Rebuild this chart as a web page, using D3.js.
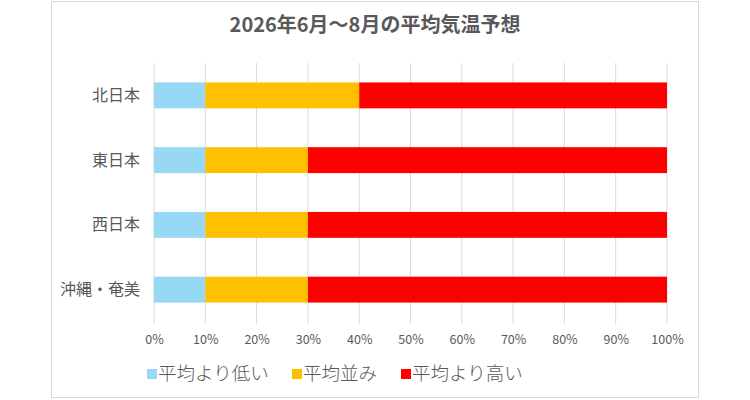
<!DOCTYPE html>
<html>
<head>
<meta charset="utf-8">
<script src="https://cdn.jsdelivr.net/npm/d3@7"></script>
<style>
body{margin:0;background:#fff;}
svg text{font-family:"Noto Sans CJK JP","Noto Sans",sans-serif;fill:#595959;}
</style>
</head>
<body>
<svg id="chart" width="750" height="400"></svg>
<script>
var regions = ["北日本","東日本","西日本","沖縄・奄美"];
var belowAvg = [10,10,10,10];
var nearAvg = [30,20,20,20];
var aboveAvg = [60,70,70,70];
var seriesNames = ["平均より低い","平均並み","平均より高い"];
var seriesColors = ["#97d8f5","#ffc000","#ff0000"];
var xTicks = [0,10,20,30,40,50,60,70,80,90,100];

var svg = d3.select("#chart");

svg.append("rect").attr("x",51.5).attr("y",1.5).attr("width",647).attr("height",396)
	.attr("fill","#fff").attr("stroke","#d9d9d9");

svg.append("text").attr("x",375).attr("y",32).attr("text-anchor","middle")
	.style("font-size","20px").style("font-weight","bold").text("2026年6月～8月の平均気温予想");

var x = d3.scaleLinear().domain([0,100]).range([154,667]);
var y = d3.scaleBand().domain(regions).range([63,322]).paddingInner(0.6).paddingOuter(0.3);

// gridlines
svg.append("g").selectAll("line").data(xTicks).enter().append("line")
	.attr("x1",function(d){return x(d);}).attr("x2",function(d){return x(d);})
	.attr("y1",63).attr("y2",324).attr("stroke","#d9d9d9").attr("stroke-width",1);

var table = regions.map(function(r,i){
	return {region:r, "平均より低い":belowAvg[i], "平均並み":nearAvg[i], "平均より高い":aboveAvg[i]};
});
var stacked = d3.stack().keys(seriesNames)(table);

svg.append("g").selectAll("g").data(stacked).enter().append("g")
	.attr("fill",function(d,i){return seriesColors[i];})
	.selectAll("rect").data(function(d){return d;}).enter().append("rect")
	.attr("x",function(d){return x(d[0]);})
	.attr("width",function(d){return x(d[1])-x(d[0]);})
	.attr("y",function(d){return y(d.data.region);})
	.attr("height",y.bandwidth());

// category labels
svg.append("g").selectAll("text").data(regions).enter().append("text")
	.attr("x",140).attr("y",function(d){return y(d)+y.bandwidth()/2;})
	.attr("dy","0.35em").attr("text-anchor","end").style("font-size","16px")
	.text(function(d){return d;});

// x axis labels
var xAxis = d3.axisBottom(x).tickValues(xTicks).tickSize(0).tickPadding(0)
	.tickFormat(function(d){return d+"%";});
var gx = svg.append("g").attr("transform","translate(0,335)").call(xAxis);
gx.select(".domain").remove();
gx.selectAll("text").style("font-size","12.5px").style("fill","#595959")
	.style("font-family","\"Noto Sans CJK JP\",\"Noto Sans\",sans-serif");

// legend
var legendX = [147,292,401];
var lg = svg.append("g").selectAll("g").data(seriesNames).enter().append("g")
	.attr("transform",function(d,i){return "translate("+legendX[i]+",374)";});
lg.append("rect").attr("x",0).attr("y",-5).attr("width",10).attr("height",10)
	.attr("fill",function(d,i){return seriesColors[i];});
lg.append("text").attr("x",11).attr("dy","0.35em").style("font-size","18.5px")
	.style("font-weight","300").text(function(d){return d;});
</script>
</body>
</html>
